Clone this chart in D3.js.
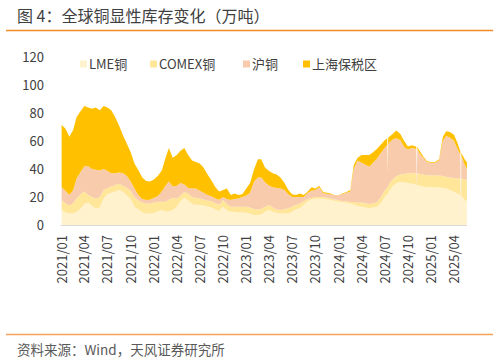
<!DOCTYPE html>
<html>
<head>
<meta charset="utf-8">
<script src="https://cdn.jsdelivr.net/npm/d3@7"></script>
<style>
  body { margin: 0; background: #fff; }
  svg { display: block; font-family: "Noto Sans CJK SC", "Noto Sans", sans-serif; }
</style>
</head>
<body>
<svg id="chart" width="499" height="362"></svg>
<script>
// ---- data (万吨), half-monthly points from 2021/01 to late 2025/05 ----
const seriesNames = ["LME铜", "COMEX铜", "沪铜", "上海保税区"];
const seriesColors = ["#FFF2CC", "#FFE699", "#F8CBAD", "#FFC000"];

const lme = [10.7,9,8.3,8.3,9.5,11.5,15,16,13.5,12,
  12.5,19,22,23,24,25,23.5,21,18.5,13,
  11,9,8.3,8.3,8.5,10,10.5,9.5,9.8,10.7,
  13,17,19.5,17.5,15,14.5,14.3,14,13.3,12.5,
  11,10,13,10.5,9.5,9.2,9,8.9,8.8,8,
  7.1,7.1,7.5,9.5,10.7,9.5,8.5,8.3,8.3,8.3,
  9.5,11,12,14.5,17,18.3,18.8,19,18.8,18.2,
  17.8,17.2,16.6,16.2,15.8,15.4,14.6,13.5,13,12.5,
  12,12.5,13,15.5,20,23.5,27.5,30,30.8,30.4,
  30,29.5,28.7,28,27.5,27,27,27,26.7,26.4,
  26,25,23.5,22.5,20.5,17.5,16.6];

const comex = [7.1,6.5,5.7,7.2,9.5,10.5,9,5.5,6.5,7,
  7.5,6,4.5,4.5,4.5,4.5,4.5,5.5,6,7,
  6.5,7,7.1,7.1,7.5,6.6,6.1,7.1,8.2,8.8,
  6,4,4,5,5,5,4.7,4.3,4.2,4.5,
  4.5,4.5,4.8,4.5,3.5,3.8,4,4.1,4.2,4.5,
  4.4,3.9,4,3.5,3.6,3,2.5,2.4,3.2,3.7,
  3.5,3.5,3.4,2.5,1.5,1,1.2,1,1.2,1.3,
  1.2,1.1,1.2,0.8,1.2,1.1,1.9,2.5,3,3,
  3,3,3.5,4.5,4.5,5,5,5,5.2,6.1,
  7,7.5,8.3,8.5,8.5,8.6,8.6,8.6,8.6,8.6,
  8.5,9,10,10.8,12.8,15,15.4];

const shfe = [9.2,9,7.5,9.5,14,15.5,18,20.5,20,20.5,
  19,15,12,9.5,8.5,8,9,8.5,6.5,6,
  3.5,2.5,2.4,2.6,3.5,3.9,7.4,11.4,13,8,
  9,9,5.5,4,6,6.5,5.5,4.7,4,3.5,
  3.5,3.5,2.2,3.5,4.8,5.5,6,7,8,10.5,
  19.5,23,22.5,17.5,13.7,14.5,15.5,15.3,13.5,10,
  7,5.5,4.6,3,4.5,5.2,5,7,2.6,2.8,
  3,3,3.7,5,6,7.5,23.5,30,28.5,27.5,
  26.6,29,31,31.5,30.5,29.5,28.5,27,24.5,19.3,
  17,18,17.5,14.5,12,9.2,8.8,8.8,10.7,25,
  29,28.5,26.5,20.7,15.7,9.5,8];

const bonded = [44.5,44.5,41.5,43,44,43.5,43,42,43,44.5,
  43,45,45.5,45,40,33.5,27,23,21,18,
  18,15.5,13.7,13,13,14.5,15,20,24,20.5,
  22,23,26,23.5,20,19,19.5,18,14.5,11.5,
  8,6,5,7.5,3.7,4,2.5,2,5,7,
  9,13,13,10.5,10.5,10,9.5,8,5,3,
  2,1.5,2.5,1.5,1,2.5,1,1,0.9,0.7,
  0.5,0.2,0,0.5,0.5,1,3,2,5.5,7,
  8.4,7.5,7,6,5.5,4.5,4,5.5,4.5,4.2,
  2,2,1.5,2,1,0.7,0.6,0.6,1,3,
  3.5,4,4.5,4,2,4,5];

// dates: 1st and 16th of each month, last point 2025-05-22
const dates = [];
for (let k = 0; k < 106; k++) {
  dates.push(new Date(2021, Math.floor(k / 2), k % 2 ? 16 : 1));
}
dates.push(new Date(2025, 4, 22));

// short data gaps (single days with missing series) and the days around them
const gapDates = ["2024-07-11","2024-07-13","2024-07-15",
                  "2024-11-03","2024-11-05","2024-11-07",
                  "2025-04-26","2025-04-28","2025-04-30"];
const gapLme    = [22, 22, 22.5,   28.6, 28.6, 28.6,   21, 0, 21];
const gapComex  = [5, 5, 5,        8.3, 0, 8.3,        12.4, 0, 12.4];
const gapShfe   = [30, 9, 30,      17.3, 0, 17.3,      16.7, 0, 16.7];
const gapBonded = [5, 0, 5,        1.6, 0, 1.6,        2.4, 0, 2.4];

const yTicks = [0, 20, 40, 60, 80, 100, 120];
const xTickDates = d3.timeMonth.every(3).range(new Date(2021, 0, 1), new Date(2025, 4, 2));

const titleText = "图 4：全球铜显性库存变化（万吨）";
const sourceText = "资料来源：Wind，天风证券研究所";

// ---- build table ----
const parse = d3.timeParse("%Y-%m-%d");
const table = dates.map((d, i) => ({
  date: d, s0: lme[i], s1: comex[i], s2: shfe[i], s3: bonded[i]
})).concat(gapDates.map((d, i) => ({
  date: parse(d), s0: gapLme[i], s1: gapComex[i], s2: gapShfe[i], s3: gapBonded[i]
}))).sort((a, b) => a.date - b.date);

const svg = d3.select("#chart");

const x = d3.scaleTime()
  .domain([new Date(2021, 0, 1), new Date(2025, 3, 1)])
  .range([61.6, 454]);
const y = d3.scaleLinear().domain([0, 120]).range([225, 57]);

// title & rules
svg.append("text").attr("x", 17).attr("y", 22)
  .attr("font-size", 16).attr("fill", "#404040").text(titleText);
svg.append("line").attr("x1", 6).attr("x2", 493).attr("y1", 30.5).attr("y2", 30.5)
  .attr("stroke", "#F28A26").attr("stroke-width", 1.5);
svg.append("line").attr("x1", 6).attr("x2", 493).attr("y1", 334.5).attr("y2", 334.5)
  .attr("stroke", "#F5A15A").attr("stroke-width", 1.5);
svg.append("text").attr("x", 17).attr("y", 355)
  .attr("font-size", 13.5).attr("fill", "#595959").text(sourceText);

// stacked areas
const stack = d3.stack().keys(["s0", "s1", "s2", "s3"]);
const layers = stack(table);
const area = d3.area()
  .x(d => x(d.data.date))
  .y0(d => y(d[0]))
  .y1(d => y(d[1]));
svg.append("g").selectAll("path").data(layers).join("path")
  .attr("d", area)
  .attr("fill", (d, i) => seriesColors[i]);

// baseline
svg.append("line")
  .attr("x1", x(dates[0]) - 1).attr("x2", x(dates[dates.length - 1]))
  .attr("y1", y(0) + 0.5).attr("y2", y(0) + 0.5)
  .attr("stroke", "#D9D9D9").attr("stroke-width", 1);

// y axis
const yAxis = svg.append("g").attr("transform", "translate(60,0)")
  .call(d3.axisLeft(y).tickValues(yTicks).tickSize(0).tickPadding(16));
yAxis.select(".domain").remove();
yAxis.selectAll("text").attr("font-size", 13).attr("fill", "#404040")
  .attr("font-family", "Noto Sans CJK SC, sans-serif");

// x axis
const xAxis = svg.append("g").attr("transform", "translate(0,225)")
  .call(d3.axisBottom(x).tickValues(xTickDates).tickSize(0).tickFormat(d3.timeFormat("%Y/%m")));
xAxis.select(".domain").remove();
xAxis.selectAll("text")
  .attr("transform", "rotate(-90)")
  .attr("x", -10).attr("y", 0).attr("dy", "0.35em")
  .attr("text-anchor", "end")
  .attr("font-size", 13).attr("fill", "#404040")
  .attr("font-family", "Noto Sans CJK SC, sans-serif");

// legend
const legendX = [80, 150, 243, 303];
const lg = svg.append("g").selectAll("g").data(seriesNames).join("g")
  .attr("transform", (d, i) => `translate(${legendX[i]},64)`);
lg.append("rect").attr("x", 0).attr("y", -3.5).attr("width", 7).attr("height", 7)
  .attr("fill", (d, i) => seriesColors[i]);
lg.append("text").attr("x", 9).attr("y", 0).attr("dy", "0.35em")
  .attr("font-size", 13).attr("fill", "#404040").text(d => d);
</script>
</body>
</html>
